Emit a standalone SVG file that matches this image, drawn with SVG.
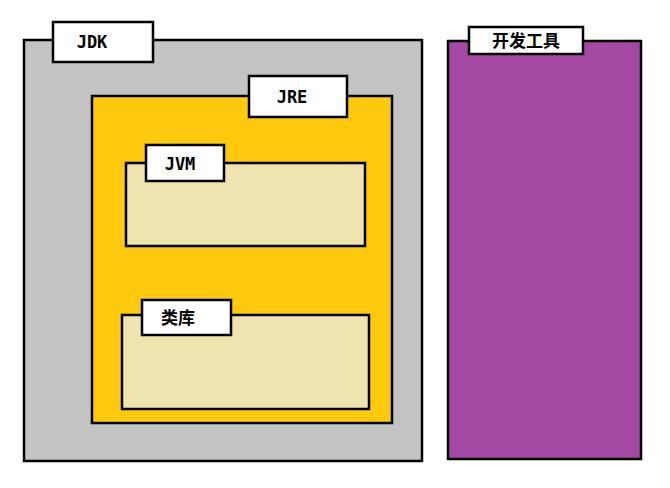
<svg xmlns="http://www.w3.org/2000/svg" width="670" height="488" viewBox="0 0 670 488">
<style>
rect{stroke:#000;stroke-width:2.5}
.l{fill:#fff}
text{font-family:"DejaVu Sans Mono","Noto Sans CJK SC",monospace;font-weight:bold;font-size:17px;fill:#000;text-anchor:middle;dominant-baseline:central}
</style>
<rect width="670" height="488" fill="#fff" style="stroke:none"/>
<g id="jdk"><rect x="24" y="40" width="398" height="421" fill="#c3c3c3"/></g>
<g id="jre"><rect x="92" y="96" width="300" height="327" fill="#ffc90e"/></g>
<g id="jvm"><rect x="126" y="163" width="239" height="83" fill="#efe4b0"/></g>
<g id="lib"><rect x="122" y="315" width="247" height="94" fill="#efe4b0"/></g>
<g id="tools"><rect x="448" y="41" width="193" height="418" fill="#a349a4"/></g>
<g id="labels">
<rect class="l" x="53" y="22" width="100" height="40"/><text x="92" y="42">JDK</text>
<rect class="l" x="249" y="76" width="98" height="41"/><text x="292" y="97">JRE</text>
<rect class="l" x="146" y="145" width="78" height="36"/><text x="180" y="164">JVM</text>
<rect class="l" x="142" y="300" width="89" height="35"/><text x="178" y="318">类库</text>
<rect class="l" x="469" y="27" width="114" height="27"/><text x="526" y="41">开发工具</text>
</g>
<g id="connectors"/>
</svg>
